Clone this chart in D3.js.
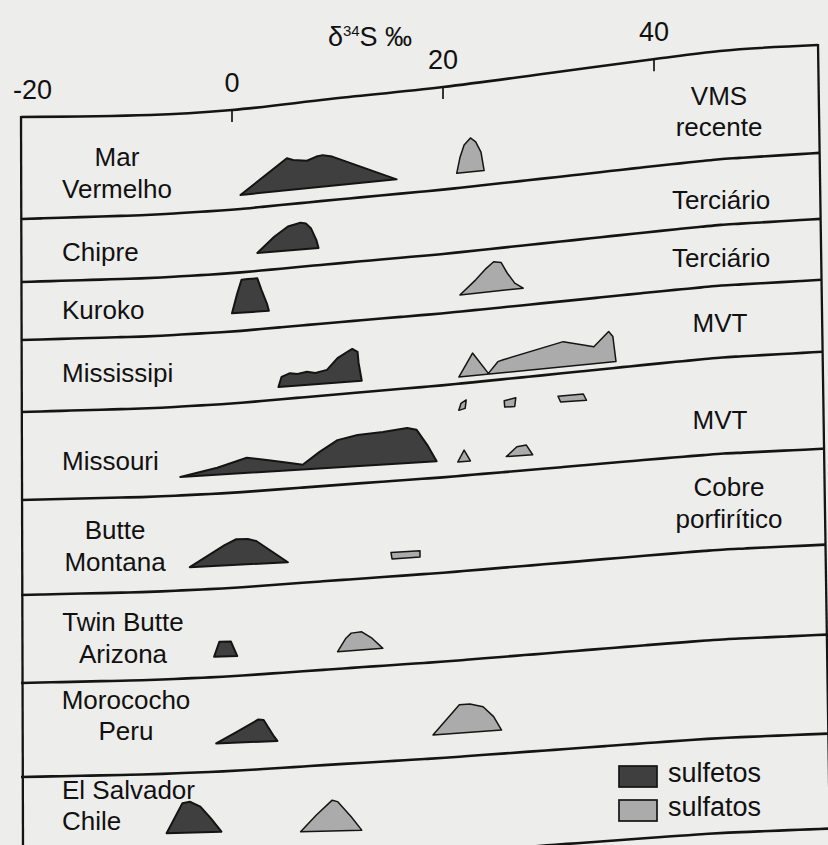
<!DOCTYPE html>
<html><head><meta charset="utf-8">
<script src="https://cdn.jsdelivr.net/npm/d3@7"></script>
<style>
html,body{margin:0;padding:0;background:#ededeb;}
svg{display:block;}
text{font-family:"Liberation Sans",Arial,Helvetica,sans-serif;fill:#111;}
</style></head><body>
<svg id="chart" width="828" height="845"></svg>
<script>
// ================= DATA =================
const axisTicks = [-20, 0, 20, 40];
const tickLabels = ["-20", "0", "20", "40"];
const depositNames = [["Mar","Vermelho"],["Chipre"],["Kuroko"],["Mississipi"],["Missouri"],
  ["Butte","Montana"],["Twin Butte","Arizona"],["Morococho","Peru"],["El Salvador","Chile"]];
const depositTypes = [["VMS","recente"],["Terciário"],["Terciário"],["MVT"],["MVT"],["Cobre","porfirítico"]];
const seriesNames = ["sulfetos","sulfatos"];

// outlines: [δ34S ‰, relative frequency]
const marVermelhoSulfetos = [[0.8,0],[5.2,8.0],[5.8,7.4],[7.1,6.9],[8.0,7.7],[8.6,7.9],[9.5,7.3],[15.6,0]];
const marVermelhoSulfatos = [[21.3,0],[21.6,3.8],[22.0,6.9],[22.6,8.5],[23.1,7.4],[23.6,4.7],[23.9,0]];
const chipreSulfetos = [[2.4,0],[4.0,3.7],[5.3,6.0],[6.5,6.7],[7.0,6.4],[7.5,5.0],[8.0,2.0],[8.2,0]];
const kurokoSulfetos = [[0.0,0],[0.5,4.9],[0.9,8.2],[1.5,8.3],[2.4,8.3],[2.8,5.3],[3.3,1.9],[3.5,0]];
const kurokoSulfatos = [[21.6,0.6],[23.1,4.1],[24.1,6.8],[24.8,8.3],[25.5,8.0],[26.1,5.2],[26.8,2.6],[27.6,1.2]];
const mississipiSulfetos = [[4.4,0],[4.7,2.5],[5.5,3.3],[6.2,3.0],[7.1,3.4],[7.9,3.0],[9.0,3.6],[10.0,6.4],[10.9,7.8],[11.4,8.5],[11.9,7.7],[12.0,4.9],[12.3,0.4]];
const mississipiSulfatos = [[21.5,0],[22.8,5.8],[24.3,0.5],[25.2,3.3],[25.7,3.7],[31.4,7.4],[33.3,6.3],[34.3,5.7],[35.7,9.3],[36.1,8.0],[36.4,1.7]];
const missouriSulfetos = [[-4.9,0],[-1.4,1.8],[1.4,3.9],[3.3,3.1],[5.5,2.0],[6.7,1.4],[8.3,4.4],[10.0,7.1],[11.9,8.1],[14.3,8.5],[16.6,9.2],[17.5,8.6],[18.5,4.7],[19.4,0.5]];
const missouriSulfatosA = [[21.4,0],[22.0,2.9],[22.6,0.1]];
const missouriSulfatosB = [[26.0,0.7],[27.0,3.0],[27.9,3.3],[28.5,0.8]];
const missouriSulfatosC = [[21.5,12.9],[21.7,14.6],[22.2,15.4],[22.1,13.3]];
const missouriSulfatosD = [[25.8,14.7],[26.9,15.3],[26.8,13.1],[25.85,13.1]];
const missouriSulfatosE = [[30.9,15.1],[33.3,15.3],[33.6,13.7],[31.15,13.6]];
const butteSulfetos = [[-4.0,0.7],[-0.7,5.8],[0.4,7.1],[1.5,7.0],[2.3,6.4],[5.3,0.7]];
const butteSulfatos = [[15.07,1.8],[17.82,1.9],[17.82,0.3],[15.17,0.2]];
const twinButteSulfetos = [[-1.7,0.3],[-1.2,4.0],[-0.1,3.9],[0.5,0.2]];
const twinButteSulfatos = [[10.0,0],[10.8,3.3],[11.3,4.5],[12.3,4.7],[13.3,2.9],[14.3,0.3]];
const morocochoSulfetos = [[-1.5,0.4],[0.5,3.1],[2.5,5.9],[3.0,5.7],[4.0,1.4],[4.3,0.3]];
const morocochoSulfatos = [[19.05,0],[21.55,7.2],[22.55,7.3],[23.8,6.45],[24.8,3.85],[25.55,0.4]];
const elSalvadorSulfetos = [[-6.2,0.7],[-4.7,8.1],[-4.0,8.4],[-3.0,7.1],[-2.0,4.1],[-1.0,0.7]];
const elSalvadorSulfatos = [[6.5,0.1],[8.0,4.2],[9.5,7.8],[10.0,7.4],[11.3,3.5],[12.3,0.1]];

const shapes = [
  {row:0, s:0, pts:marVermelhoSulfetos}, {row:0, s:1, pts:marVermelhoSulfatos},
  {row:1, s:0, pts:chipreSulfetos},
  {row:2, s:0, pts:kurokoSulfetos}, {row:2, s:1, pts:kurokoSulfatos},
  {row:3, s:0, pts:mississipiSulfetos}, {row:3, s:1, pts:mississipiSulfatos},
  {row:4, s:0, pts:missouriSulfetos}, {row:4, s:1, pts:missouriSulfatosA}, {row:4, s:1, pts:missouriSulfatosB},
  {row:4, s:1, pts:missouriSulfatosC}, {row:4, s:1, pts:missouriSulfatosD}, {row:4, s:1, pts:missouriSulfatosE},
  {row:5, s:0, pts:butteSulfetos}, {row:5, s:1, pts:butteSulfatos},
  {row:6, s:0, pts:twinButteSulfetos}, {row:6, s:1, pts:twinButteSulfatos},
  {row:7, s:0, pts:morocochoSulfetos}, {row:7, s:1, pts:morocochoSulfatos},
  {row:8, s:0, pts:elSalvadorSulfetos}, {row:8, s:1, pts:elSalvadorSulfatos}
];

// ================= LAYOUT =================
const W = 828, H = 845;
const fills = ["#3f3f3f", "#ababab"];
const x = d3.scaleLinear().domain([-20, 40]).range([21, 654]);
const f = d3.scaleLinear().domain([0, 10]).range([0, 40]);

// the page is photographed slightly bent: top frame curve and row lines follow it
const topCurve = [[21,117],[150,115],[232,110],[330,99],[443,87],[550,73],[655,59],[720,51],[818,45]];
const sepLeft  = [219,282,340,412,500,595,683,777,872];
const sepRight = [153,219,280,352,449,545,635,734,829];
const rowBase = [
  {x0:240, y0:195, s:-0.1}, {x0:257, y0:253, s:-0.082}, {x0:232.3, y0:313.3, s:-0.07},
  {x0:278, y0:387, s:-0.0552}, {x0:180, y0:477, s:-0.054}, {x0:190, y0:570, s:-0.051},
  {x0:213.8, y0:658, s:-0.05}, {x0:216.5, y0:745, s:-0.0467}, {x0:166.3, y0:836, s:-0.028}
];
const leftLab = [
  {x:117, a:"middle", y:[156,188]}, {x:62, a:"start", y:[251]}, {x:62, a:"start", y:[309]},
  {x:62, a:"start", y:[372]}, {x:62, a:"start", y:[460]}, {x:115, a:"middle", y:[529,561]},
  {x:123, a:"middle", y:[621,653]}, {x:126, a:"middle", y:[699,730]}, {x:62, a:"start", y:[789,820]}
];
const rightLab = [{x:719,y:[95,126]},{x:721,y:[199]},{x:721,y:[257]},{x:720,y:[322]},{x:720,y:[419]},{x:729,y:[486,518]}];

function interp(pts, xv){
  let i = 0;
  while (i < pts.length-2 && xv > pts[i+1][0]) i++;
  const [x0,y0] = pts[i], [x1,y1] = pts[i+1];
  return y0 + (y1-y0)*(xv-x0)/(x1-x0);
}
const topW = topCurve.map(([px,py]) => [(px-21)/(818-21), (117-py)/(117-45)]);
function warp(t){ return 0.75*interp(topW, t) + 0.25*t; }
function sepY(i, px){ const t = (px-21)/797; return sepLeft[i] + (sepRight[i]-sepLeft[i])*warp(t); }
function rightBorderX(py){ return 818 + (py-45)*0.015; }
function baseY(r, px){ const b = rowBase[r]; return b.y0 + b.s*(px - b.x0); }

const svg = d3.select("#chart");
svg.append("rect").attr("width", W).attr("height", H).attr("fill", "#ededeb");

const line = d3.line().curve(d3.curveMonotoneX);
const ink = "#141414";
// top frame curve
svg.append("path").attr("d", line(topCurve)).attr("fill","none").attr("stroke",ink).attr("stroke-width",2.6);
// borders
svg.append("line").attr("x1",21).attr("y1",116).attr("x2",23).attr("y2",H)
  .attr("stroke",ink).attr("stroke-width",2.3);
svg.append("line").attr("x1",818).attr("y1",44).attr("x2",rightBorderX(H)).attr("y2",H)
  .attr("stroke",ink).attr("stroke-width",2.3);

// row separators
sepLeft.forEach((yl, i) => {
  const xe = rightBorderX(sepRight[i]);
  const pts = d3.range(0, 41).map(k => { const px = 21 + (xe-21)*k/40; return [px, sepY(i, px)]; });
  svg.append("path").attr("d", line(pts)).attr("fill","none").attr("stroke",ink).attr("stroke-width",2.6);
});

// ticks and labels on the top axis
axisTicks.forEach((v, i) => {
  const px = x(v), py = interp(topCurve, px);
  if (i > 0) svg.append("line").attr("x1",px).attr("x2",px).attr("y1",py).attr("y2",py+12)
      .attr("stroke",ink).attr("stroke-width",1.7);
  svg.append("text").attr("x", i === 0 ? px - 8 : px).attr("y", py - 18)
    .attr("text-anchor", i === 0 ? "start" : "middle").attr("font-size", 27).text(tickLabels[i]);
});

// title
const title = svg.append("text").attr("x", 370).attr("y", 46).attr("text-anchor","middle").attr("font-size", 27);
title.append("tspan").text("δ");
title.append("tspan").attr("font-size", 15).attr("dy", -10).text("34");
title.append("tspan").attr("dy", 10).text("S ‰");

// shapes
shapes.forEach(sh => {
  const pts = sh.pts.map(([d, v]) => { const px = x(d); return [px, baseY(sh.row, px) - f(v)]; });
  svg.append("path").attr("d", d3.line().curve(d3.curveLinearClosed)(pts))
    .attr("fill", fills[sh.s]).attr("stroke", ink).attr("stroke-width", sh.s ? 1.5 : 2)
    .attr("stroke-linejoin","round");
});

// left labels
depositNames.forEach((lines, i) => {
  const L = leftLab[i];
  lines.forEach((t, k) => svg.append("text").attr("x", L.x).attr("y", L.y[k] + 9.5)
    .attr("text-anchor", L.a).attr("font-size", 26).text(t));
});
// right labels
depositTypes.forEach((lines, i) => {
  const R = rightLab[i];
  lines.forEach((t, k) => svg.append("text").attr("x", R.x).attr("y", R.y[k] + 9.5)
    .attr("text-anchor", "middle").attr("font-size", 26).text(t));
});

// legend
const legY = [766, 800];
seriesNames.forEach((n, i) => {
  svg.append("rect").attr("x", 619).attr("y", legY[i]).attr("width", 38).attr("height", 21)
    .attr("fill", fills[i]).attr("stroke", ink).attr("stroke-width", 1.7);
  svg.append("text").attr("x", 668).attr("y", legY[i] + 16).attr("font-size", 27).text(n);
});
</script>
</body></html>
